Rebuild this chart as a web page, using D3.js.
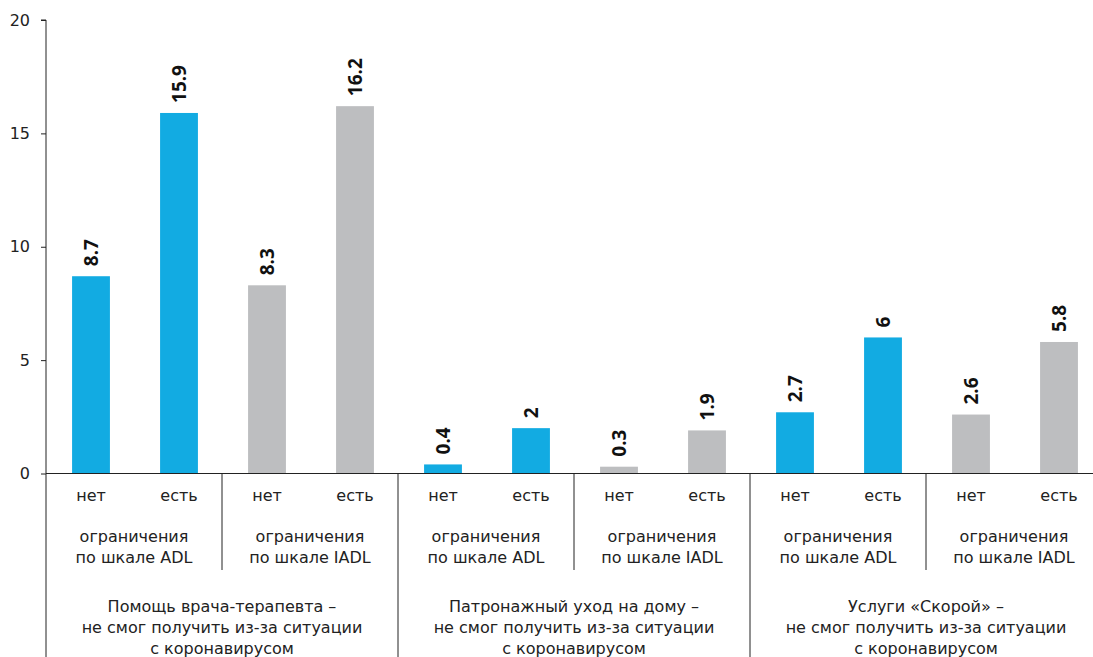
<!DOCTYPE html>
<html>
<head>
<meta charset="utf-8">
<script src="https://cdn.jsdelivr.net/npm/d3@7"></script>
<style>
	body { margin: 0; background: #fff; }
	svg { display: block; font-family: 'DejaVu Sans', sans-serif; }
</style>
</head>
<body>
<svg id="chart" width="1093" height="657"></svg>
<script>
const groups = [
	['Помощь врача-терапевта –', 'не смог получить из-за ситуации', 'с коронавирусом'],
	['Патронажный уход на дому –', 'не смог получить из-за ситуации', 'с коронавирусом'],
	['Услуги «Скорой» –', 'не смог получить из-за ситуации', 'с коронавирусом']
];
const scales = [
	['ограничения', 'по шкале ADL'],
	['ограничения', 'по шкале IADL']
];
const answers = ['нет', 'есть'];
const values = [8.7, 15.9, 8.3, 16.2, 0.4, 2, 0.3, 1.9, 2.7, 6, 2.6, 5.8];
const yTicks = [0, 5, 10, 15, 20];
const colors = ['#12abe2', '#bdbec0'];

const svg = d3.select('#chart');
const x0 = 46, x1 = 1102, yTop = 20, yZero = 473.5;

const bars = values.map((v, i) => ({
	v,
	i,
	group: Math.floor(i / 4),
	scale: Math.floor(i / 2) % 2,
	answer: i % 2
}));

const x = d3.scaleBand().domain(d3.range(values.length)).range([x0 + 1, x1 + 1]).paddingInner(0.57).paddingOuter(0.285);
const y = d3.scaleLinear().domain([0, 20]).range([yZero, yTop]);

// y axis
const yAxis = svg.append('g')
	.attr('transform', `translate(${x0},0)`)
	.call(d3.axisLeft(y).tickValues(yTicks).tickSize(5).tickPadding(11));
yAxis.select('.domain').attr('stroke', '#222').attr('d', `M-5,${yTop}H0V${yZero}`);
yAxis.selectAll('.tick line').attr('stroke', '#222');
yAxis.selectAll('.tick text').style('font-family', "'DejaVu Sans', sans-serif").style('font-size', '16px').attr('fill', '#222');

// bars
svg.selectAll('rect.bar').data(bars).enter().append('rect')
	.attr('class', 'bar')
	.attr('x', (d) => x(d.i))
	.attr('width', x.bandwidth())
	.attr('y', (d) => y(d.v))
	.attr('height', (d) => yZero - y(d.v))
	.attr('fill', (d) => colors[d.scale]);

// value labels
svg.selectAll('text.val').data(bars).enter().append('text')
	.attr('class', 'val')
	.attr('transform', (d) => `translate(${x(d.i) + x.bandwidth() / 2 + 7},${y(d.v) - 10}) rotate(-90)`)
	.attr('text-anchor', 'start')
	.style('font-family', "'Noto Sans', sans-serif")
	.style('font-size', '19px')
	.style('font-weight', 'bold')
	.attr('fill', '#111')
	.text((d) => d.v);

// baseline
svg.append('line')
	.attr('x1', x0).attr('x2', x1)
	.attr('y1', yZero).attr('y2', yZero)
	.attr('stroke', '#222');

const slot = (x1 - x0) / values.length;

// separators
d3.range(1, 6).forEach((k) => {
	const sx = x0 + k * slot * 2;
	const major = k % 2 === 0;
	svg.append('line')
		.attr('x1', sx).attr('x2', sx)
		.attr('y1', yZero).attr('y2', major ? 657 : 570)
		.attr('stroke', '#222');
});
svg.append('line')
	.attr('x1', x0).attr('x2', x0)
	.attr('y1', yZero).attr('y2', 657)
	.attr('stroke', '#222');

// answer labels
svg.selectAll('text.ans').data(bars).enter().append('text')
	.attr('class', 'ans')
	.attr('x', (d) => x(d.i) + x.bandwidth() / 2)
	.attr('y', 501)
	.attr('text-anchor', 'middle')
	.style('font-size', '16px')
	.attr('fill', '#222')
	.text((d) => answers[d.answer]);

// scale labels
d3.range(6).forEach((k) => {
	const cx = x0 + (k + 0.5) * slot * 2;
	scales[k % 2].forEach((line, j) => {
		svg.append('text')
			.attr('x', cx)
			.attr('y', 542 + j * 21)
			.attr('text-anchor', 'middle')
			.style('font-size', '16px')
			.attr('fill', '#222')
			.text(line);
	});
});

// group labels
groups.forEach((g, k) => {
	const cx = x0 + (k + 0.5) * slot * 4;
	g.forEach((line, j) => {
		svg.append('text')
			.attr('x', cx)
			.attr('y', 612 + j * 21)
			.attr('text-anchor', 'middle')
			.style('font-size', '16px')
			.attr('fill', '#222')
			.text(line);
	});
});
</script>
</body>
</html>
